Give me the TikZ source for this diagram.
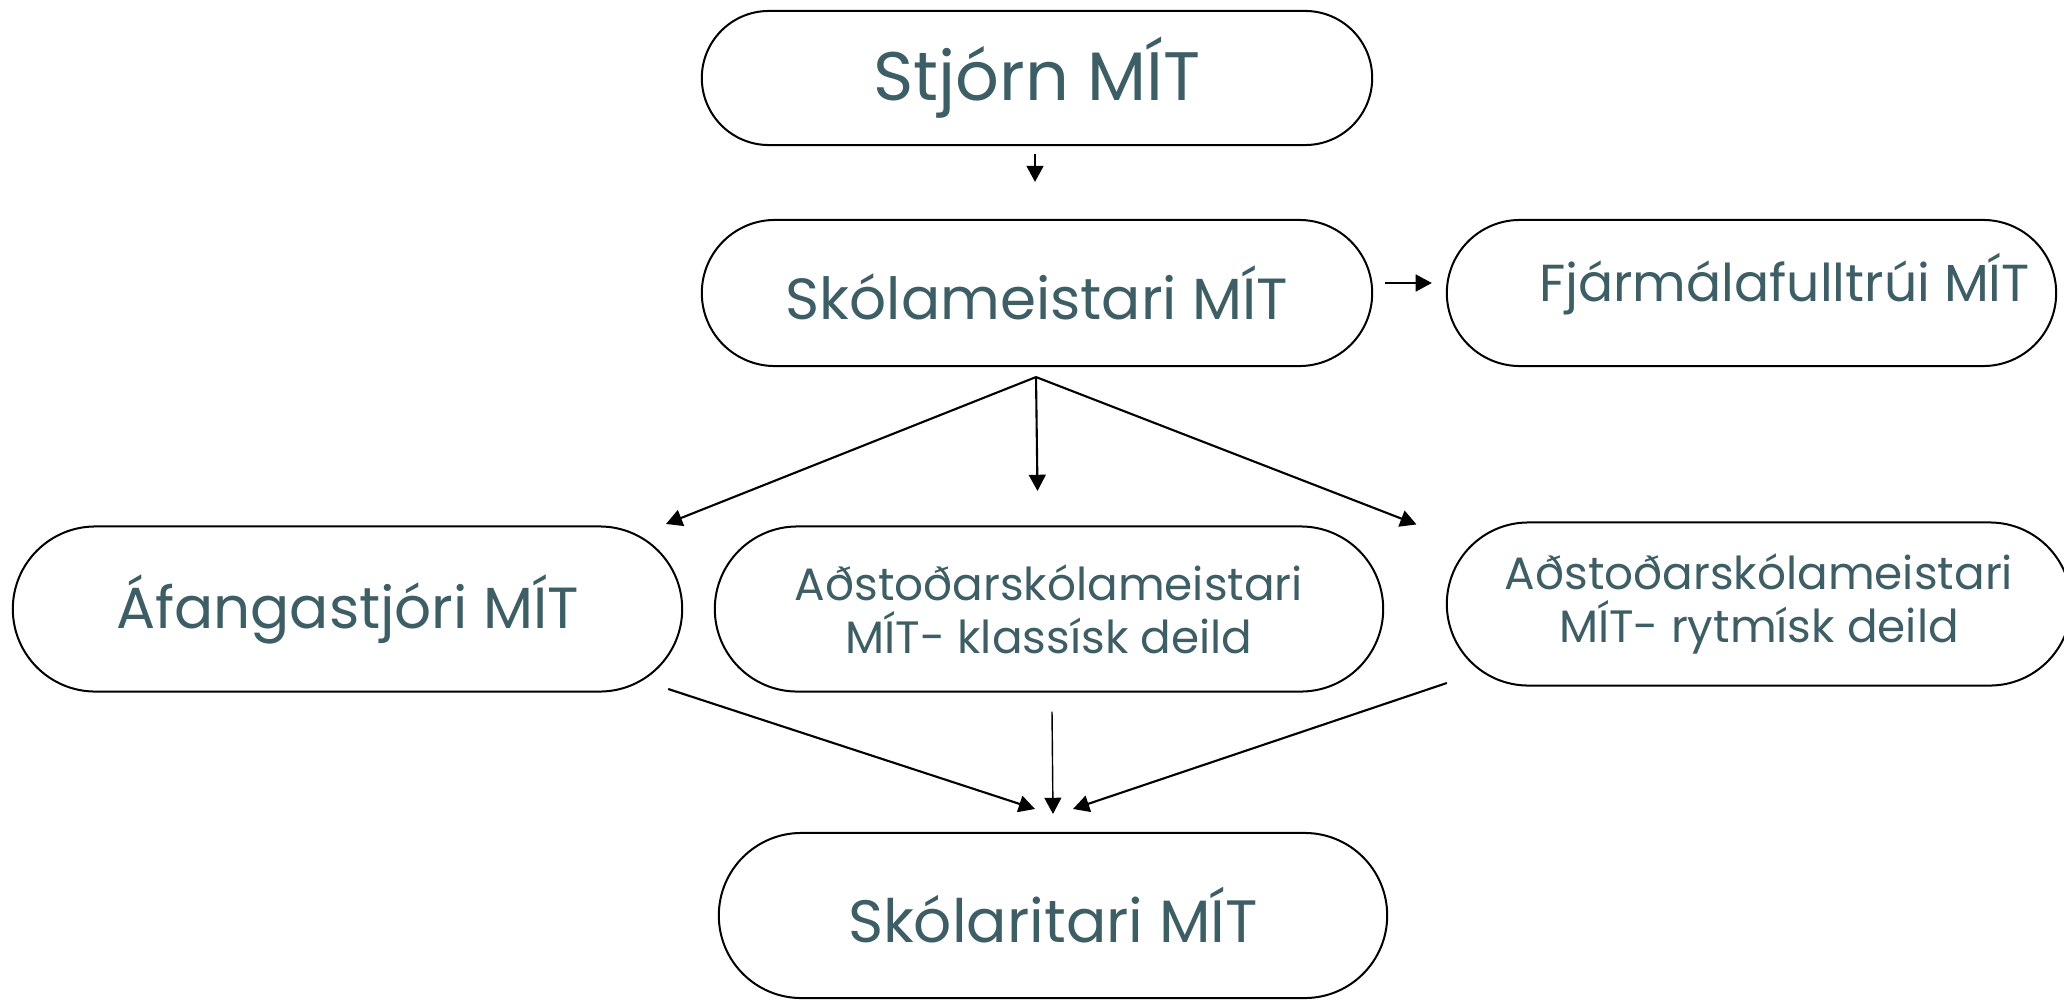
\documentclass[tikz,border=0pt]{standalone}
\usepackage{fontspec}
\setmainfont{Poppins}
\usetikzlibrary{shapes.misc,arrows.meta}

\definecolor{slate}{RGB}{62,94,102}

\begin{document}
\begin{tikzpicture}[x=0.01cm, y=-0.01cm]
    \tikzset{unit/.style={rounded rectangle, draw=black, line width=0.57pt, inner sep=0pt, text=slate, align=center}}
    \tikzset{big/.style={font=\fontsize{19.5}{21}\selectfont}}
    \tikzset{mid/.style={font=\fontsize{16.5}{18}\selectfont}}
    \tikzset{small/.style={font=\fontsize{12.9}{15.1}\selectfont}}
    \tikzset{arr/.style={-{Triangle[length=4.6pt, width=4.8pt]}, line width=0.6pt}}

    % page size
    \useasboundingbox (0,0) rectangle (2064,1000);

    % units
    \node (stjorn) at (1037,78)    [unit, big, minimum width=6.70cm, minimum height=1.34cm] {Stjórn MÍT};
    \node (skolam) at (1037,293)   [unit, mid, minimum width=6.70cm, minimum height=1.46cm] {Skólameistari MÍT};
    \node (fjarm)  at (1751.5,293) [unit, minimum width=6.09cm, minimum height=1.46cm] {};
    \node (fjarm text) at ([shift={(33,-9)}]fjarm.center) [text=slate, font=\fontsize{14.8}{16}\selectfont] {Fjármálafulltrúi MÍT};
    \node (afanga) at (347.5,609)  [unit, mid, minimum width=6.69cm, minimum height=1.65cm] {Áfangastjóri MÍT};
    \node (klass)  at (1049,609)   [unit, small, minimum width=6.68cm, minimum height=1.65cm] {Aðstoðarskólameistari\\MÍT- klassísk deild};
    \node (rytm)   at (1759,604)   [unit, small, minimum width=6.24cm, minimum height=1.63cm] {Aðstoðarskólameistari\\MÍT- rytmísk deild};
    \node (skolar) at (1053,915.5) [unit, font=\fontsize{17}{18}\selectfont, minimum width=6.68cm, minimum height=1.65cm] {Skólaritari MÍT};

    % arrow ends
    \coordinate (stjorn out) at ([shift={(-2,8)}]stjorn.south);
    \coordinate (skolam in)  at ([shift={(-2,-37)}]skolam.north);
    \coordinate (skolam out) at ([shift={(12,-10)}]skolam.east);
    \coordinate (fjarm in)   at ([shift={(-14,-10)}]fjarm.west);
    \coordinate (fan)        at ([shift={(-1,10)}]skolam.south);
    \coordinate (afanga in)  at ([shift={(318.5,-1.5)}]afanga.north);
    \coordinate (klass in)   at ([shift={(-11.5,-34.5)}]klass.north);
    \coordinate (rytm in)    at ([shift={(-342.5,3)}]rytm.north);
    \coordinate (afanga out) at ([shift={(-15,80)}]afanga.east);
    \coordinate (klass out)  at ([shift={(3,19)}]klass.south);
    \coordinate (rytm out)   at ([shift={(1,79)}]rytm.west);
    \coordinate (skolar in1) at ([shift={(-18,-23)}]skolar.north);
    \coordinate (skolar in2) at ([shift={(0,-18)}]skolar.north);
    \coordinate (skolar in3) at ([shift={(20,-23)}]skolar.north);

    % arrows
    \draw[arr] (stjorn out) -- (skolam in);
    \draw[arr] (skolam out) -- (fjarm in);
    \draw[arr] (fan) -- (afanga in);
    \draw[arr] (fan) -- (klass in);
    \draw[arr] (fan) -- (rytm in);
    \draw[arr] (afanga out) -- (skolar in1);
    \draw[arr, line width=0.4pt] (klass out) -- (skolar in2);
    \draw[arr] (rytm out) -- (skolar in3);

  \end{tikzpicture}
\end{document}
